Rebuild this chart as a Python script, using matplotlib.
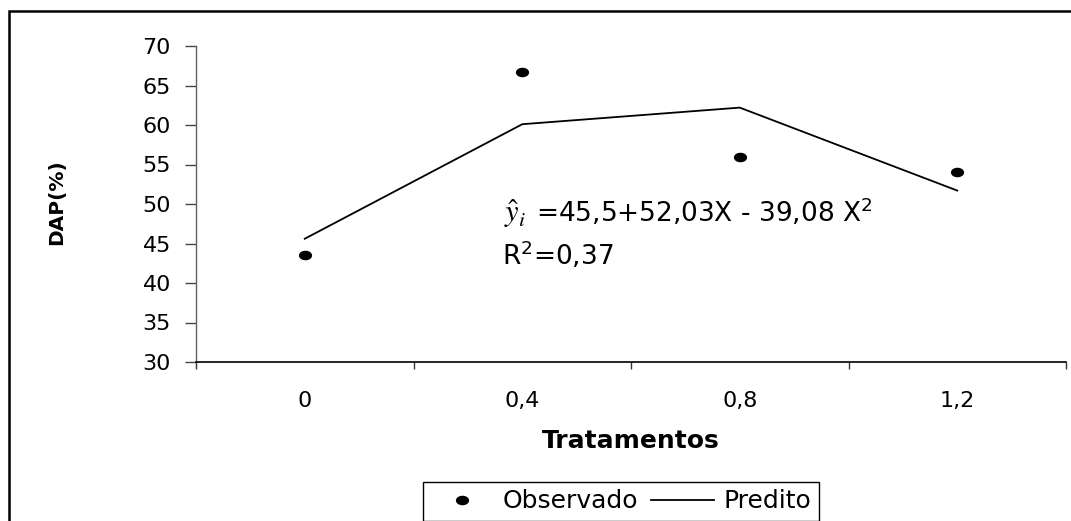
import numpy as np
import matplotlib
matplotlib.use("Agg")
import matplotlib.pyplot as plt
from matplotlib.patches import Rectangle
from matplotlib.path import Path
from matplotlib.transforms import Affine2D

# values
tratamentos = ["0", "0,4", "0,8", "1,2"]
observado = [43.6, 66.7, 55.9, 54.0]
predito = [45.6, 60.1, 62.2, 51.7]
y_ticks = [30, 35, 40, 45, 50, 55, 60, 65, 70]

W, H = 1071, 521
fig = plt.figure(figsize=(W / 100, H / 100), dpi=100)
ax = fig.add_axes([196 / W, 1 - 362 / H, (1066 - 196) / W, (362 - 46) / H])

x = np.arange(len(tratamentos))
ellipse = Path.unit_circle().transformed(Affine2D().scale(1.45, 1.0))
h_obs, = ax.plot(x, observado, ls="none", marker=ellipse, ms=8.5, color="black")
h_pred, = ax.plot(x, predito, color="black", lw=1.3)

ax.set_xlim(-0.5, len(tratamentos) - 0.5)
ax.set_ylim(30, 70)
ax.set_yticks(y_ticks)
ax.set_xticks(x)
ax.set_xticklabels(tratamentos)
ax.set_xticks(np.arange(len(tratamentos) + 1) - 0.5, minor=True)

for s in ["top", "right"]:
    ax.spines[s].set_visible(False)
ax.spines["left"].set_color("#606060")
ax.spines["left"].set_linewidth(1.0)
ax.spines["bottom"].set_color("black")
ax.spines["bottom"].set_linewidth(1.2)

ax.tick_params(axis="y", direction="out", length=8, width=1, color="#444444",
               labelsize=16, pad=10)
ax.tick_params(axis="x", which="major", length=0, labelsize=16, pad=21)
ax.tick_params(axis="x", which="minor", direction="out", length=5, width=1,
               color="#333333")

fig.text(57 / W, 1 - 202 / H, "DAP(%)", rotation=90, fontweight="bold",
         fontsize=14.5, ha="center", va="center")
fig.text(631 / W, 1 - 441 / H, "Tratamentos", fontweight="bold",
         fontsize=18, ha="center", va="center")

# regression equation
fig.text(504 / W, 1 - 222 / H, r"$\hat{y}_i$", math_fontfamily="stix",
         fontsize=22, va="baseline")
fig.text(536 / W, 1 - 222 / H, "=45,5+52,03X - 39,08 X$^2$",
         math_fontfamily="dejavusans", fontsize=19, va="baseline")
fig.text(502 / W, 1 - 265 / H, "R$^2$=0,37", math_fontfamily="dejavusans",
         fontsize=19, va="baseline")

leg = fig.legend([h_obs, h_pred], ["Observado", "Predito"], ncol=2,
                 loc="upper left", bbox_to_anchor=(423 / W, 1 - 482 / H),
                 bbox_transform=fig.transFigure, borderaxespad=0,
                 fontsize=18, handlelength=2.5, handletextpad=0.4,
                 columnspacing=0.5, borderpad=0.3, fancybox=False,
                 framealpha=1, edgecolor="black")
leg.get_frame().set_linewidth(1.0)

# outer chart border (cut off at right and bottom in the original)
fig.patches.append(Rectangle((9 / W, -0.1), 1.2, 1 - 11 / H + 0.1,
                             transform=fig.transFigure, fill=False,
                             lw=1.8, ec="black"))

fig.savefig("out.png", dpi=100)
